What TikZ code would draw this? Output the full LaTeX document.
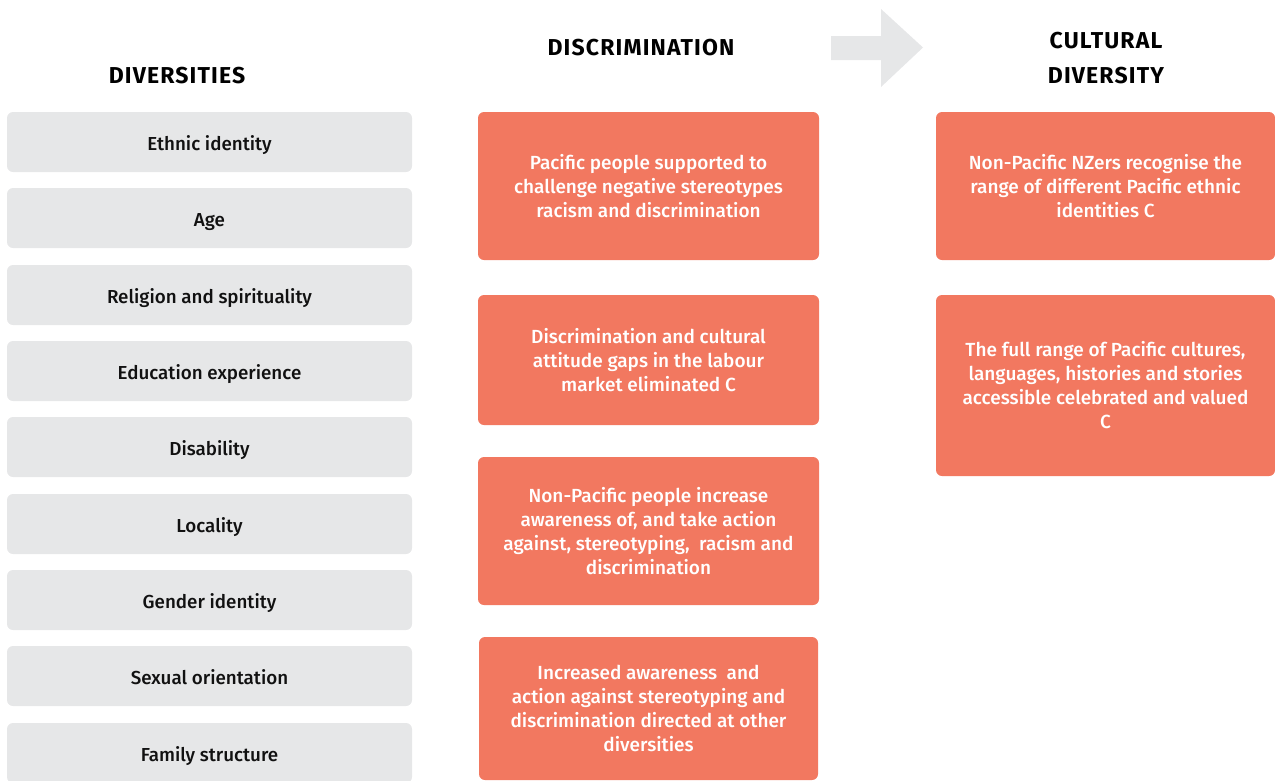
\documentclass[tikz,border=0pt]{standalone}
\usepackage{fontspec}
\setmainfont{Fira Sans}[UprightFont={* Medium}, BoldFont={* Bold}]
\newfontfamily\headfont{Fira Sans Bold}[LetterSpace=5]
\definecolor{boxgray}{HTML}{E6E7E8}
\definecolor{boxorange}{HTML}{F27860}
\definecolor{txtdark}{HTML}{111111}
\tikzset{
  graybox/.style={fill=boxgray, draw=none, rounded corners=6pt, minimum width=405pt, minimum height=60pt, inner sep=0pt, text height=18pt, text depth=2pt, text=txtdark, font=\fontsize{18.8}{22}\selectfont},
  orangebox/.style={fill=boxorange, draw=none, rounded corners=6pt, inner sep=0pt, text=white, align=center, font=\fontsize{19}{24}\selectfont},
  header/.style={text=black, align=center, font=\headfont\fontsize{23}{35}\selectfont},
}
\begin{document}
\begin{tikzpicture}[x=1pt,y=-1pt]
\useasboundingbox (0,0) rectangle (1275,780);
\begin{scope}
\clip (0,0) rectangle (1275,780);
% headers
\node[header] (hdiv) at (177,75.5) {DIVERSITIES};
\node[header] (hdisc) at (641,47.5) {DISCRIMINATION};
\node[header] (hcult) at (1106,58) {CULTURAL\\DIVERSITY};
% arrow
\fill[boxgray] (831,36) -- (881,36) -- (881,9) -- (923,47.5) -- (881,87) -- (881,60) -- (831,60) -- cycle;
% left column
\node[graybox] (d1) at (209.5,142) {Ethnic identity};
\node[graybox] (d2) at (209.5,218) {Age};
\node[graybox] (d3) at (209.5,295) {Religion and spirituality};
\node[graybox] (d4) at (209.5,371) {Education experience};
\node[graybox] (d5) at (209.5,447) {Disability};
\node[graybox] (d6) at (209.5,524) {Locality};
\node[graybox] (d7) at (209.5,600) {Gender identity};
\node[graybox] (d8) at (209.5,676) {Sexual orientation};
\node[graybox] (d9) at (209.5,753) {Family structure};
% middle column
\node[orangebox, minimum width=341pt, minimum height=148pt] (m1) at (648.5,186) {Pacific people supported to\\challenge negative stereotypes\\racism and discrimination};
\node[orangebox, minimum width=341pt, minimum height=130pt] (m2) at (648.5,360) {Discrimination and cultural\\attitude gaps in the labour\\market eliminated C};
\node[orangebox, minimum width=341pt, minimum height=148pt] (m3) at (648.5,531) {Non-Pacific people increase\\awareness of, and take action\\against, stereotyping,\ \ racism and\\discrimination};
\node[orangebox, minimum width=339pt, minimum height=143pt] (m4) at (648.5,708.5) {Increased awareness\ \ and\\action against stereotyping and\\discrimination directed at other\\diversities};
% right column
\node[orangebox, minimum width=339pt, minimum height=148pt] (r1) at (1105.5,186) {Non-Pacific NZers recognise the\\range of different Pacific ethnic\\identities C};
\node[orangebox, minimum width=339pt, minimum height=181pt] (r2) at (1105.5,385.5) {The full range of Pacific cultures,\\languages, histories and stories\\accessible celebrated and valued\\C};
\end{scope}
\end{tikzpicture}
\end{document}
